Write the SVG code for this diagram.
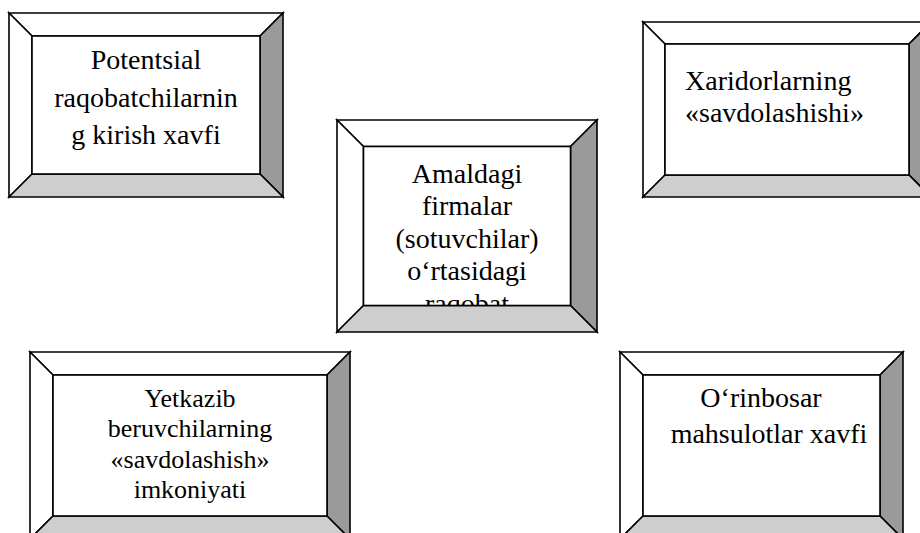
<svg xmlns="http://www.w3.org/2000/svg" width="920" height="533" viewBox="0 0 920 533">
  <defs>
    <clipPath id="centerFace"><rect x="364" y="147" width="206" height="158"/></clipPath>
  </defs>
  <rect width="920" height="533" fill="#fff"/>

  <!-- Bevelled panel: threat of new entrants -->
  <g id="entrants">
    <polygon points="9,13 283,13 260,36 32,36" fill="#fff" stroke="#000" stroke-width="1.6"/>
    <polygon points="9,13 32,36 32,174 9,197" fill="#fff" stroke="#000" stroke-width="1.6"/>
    <polygon points="283,13 283,197 260,174 260,36" fill="#9a9a9a" stroke="#000" stroke-width="1.6"/>
    <polygon points="9,197 32,174 260,174 283,197" fill="#cecece" stroke="#000" stroke-width="1.6"/>
    <rect x="32" y="36" width="228" height="138" fill="#fff" stroke="#000" stroke-width="1.6"/>
    <text x="146" y="69" font-size="28" font-family="Liberation Serif" style="font-family:'Liberation Serif',serif !important" text-anchor="middle">Potentsial</text>
    <text x="146" y="106.5" font-size="28" font-family="Liberation Serif" style="font-family:'Liberation Serif',serif !important" text-anchor="middle">raqobatchilarnin</text>
    <text x="146" y="144" font-size="28" font-family="Liberation Serif" style="font-family:'Liberation Serif',serif !important" text-anchor="middle">g kirish xavfi</text>
  </g>

  <!-- Bevelled panel: rivalry among existing firms -->
  <g id="rivalry">
    <polygon points="337,120 597,120 570.5,146.5 363.5,146.5" fill="#fff" stroke="#000" stroke-width="1.6"/>
    <polygon points="337,120 363.5,146.5 363.5,305.5 337,332" fill="#fff" stroke="#000" stroke-width="1.6"/>
    <polygon points="597,120 597,332 570.5,305.5 570.5,146.5" fill="#9a9a9a" stroke="#000" stroke-width="1.6"/>
    <polygon points="337,332 363.5,305.5 570.5,305.5 597,332" fill="#cecece" stroke="#000" stroke-width="1.6"/>
    <rect x="363.5" y="146.5" width="207" height="159" fill="#fff" stroke="#000" stroke-width="1.6"/>
    <g clip-path="url(#centerFace)">
      <text x="467" y="182.5" font-size="28" font-family="Liberation Serif" style="font-family:'Liberation Serif',serif !important" text-anchor="middle">Amaldagi</text>
      <text x="467" y="215" font-size="28" font-family="Liberation Serif" style="font-family:'Liberation Serif',serif !important" text-anchor="middle">firmalar</text>
      <text x="467" y="247.5" font-size="28" font-family="Liberation Serif" style="font-family:'Liberation Serif',serif !important" text-anchor="middle">(sotuvchilar)</text>
      <text x="467" y="280" font-size="28" font-family="Liberation Serif" style="font-family:'Liberation Serif',serif !important" text-anchor="middle">o&#8216;rtasidagi</text>
      <text x="467" y="312.5" font-size="28" font-family="Liberation Serif" style="font-family:'Liberation Serif',serif !important" text-anchor="middle">raqobat</text>
    </g>
  </g>

  <!-- Bevelled panel: bargaining power of buyers (runs past the right edge) -->
  <g id="buyers">
    <polygon points="643,22 931,22 909,44 665,44" fill="#fff" stroke="#000" stroke-width="1.6"/>
    <polygon points="643,22 665,44 665,175 643,197" fill="#fff" stroke="#000" stroke-width="1.6"/>
    <polygon points="931,22 931,197 909,175 909,44" fill="#9a9a9a" stroke="#000" stroke-width="1.6"/>
    <polygon points="643,197 665,175 909,175 931,197" fill="#cecece" stroke="#000" stroke-width="1.6"/>
    <rect x="665" y="44" width="244" height="131" fill="#fff" stroke="#000" stroke-width="1.6"/>
    <text x="685" y="90" font-size="28" font-family="Liberation Serif" style="font-family:'Liberation Serif',serif !important">Xaridorlarning</text>
    <text x="685" y="121.5" font-size="28" font-family="Liberation Serif" style="font-family:'Liberation Serif',serif !important">&#171;savdolashishi&#187;</text>
  </g>

  <!-- Bevelled panel: bargaining power of suppliers (runs past the bottom edge) -->
  <g id="suppliers">
    <polygon points="30,352 350,352 327,375 53,375" fill="#fff" stroke="#000" stroke-width="1.6"/>
    <polygon points="30,352 53,375 53,516 30,539" fill="#fff" stroke="#000" stroke-width="1.6"/>
    <polygon points="350,352 350,539 327,516 327,375" fill="#9a9a9a" stroke="#000" stroke-width="1.6"/>
    <polygon points="30,539 53,516 327,516 350,539" fill="#cecece" stroke="#000" stroke-width="1.6"/>
    <rect x="53" y="375" width="274" height="141" fill="#fff" stroke="#000" stroke-width="1.6"/>
    <text x="190" y="406.5" font-size="26" font-family="Liberation Serif" style="font-family:'Liberation Serif',serif !important" text-anchor="middle">Yetkazib</text>
    <text x="190" y="437" font-size="26" font-family="Liberation Serif" style="font-family:'Liberation Serif',serif !important" text-anchor="middle">beruvchilarning</text>
    <text x="190" y="467.5" font-size="26" font-family="Liberation Serif" style="font-family:'Liberation Serif',serif !important" text-anchor="middle">&#171;savdolashish&#187;</text>
    <text x="190" y="498" font-size="26" font-family="Liberation Serif" style="font-family:'Liberation Serif',serif !important" text-anchor="middle">imkoniyati</text>
  </g>

  <!-- Bevelled panel: threat of substitutes (runs past the bottom edge) -->
  <g id="substitutes">
    <polygon points="620,352 903,352 880,375 643,375" fill="#fff" stroke="#000" stroke-width="1.6"/>
    <polygon points="620,352 643,375 643,516 620,539" fill="#fff" stroke="#000" stroke-width="1.6"/>
    <polygon points="903,352 903,539 880,516 880,375" fill="#9a9a9a" stroke="#000" stroke-width="1.6"/>
    <polygon points="620,539 643,516 880,516 903,539" fill="#cecece" stroke="#000" stroke-width="1.6"/>
    <rect x="643" y="375" width="237" height="141" fill="#fff" stroke="#000" stroke-width="1.6"/>
    <text x="761" y="407" font-size="28" font-family="Liberation Serif" style="font-family:'Liberation Serif',serif !important" text-anchor="middle">O&#8216;rinbosar</text>
    <text x="769" y="443" font-size="28" font-family="Liberation Serif" style="font-family:'Liberation Serif',serif !important" text-anchor="middle">mahsulotlar xavfi</text>
  </g>
</svg>
